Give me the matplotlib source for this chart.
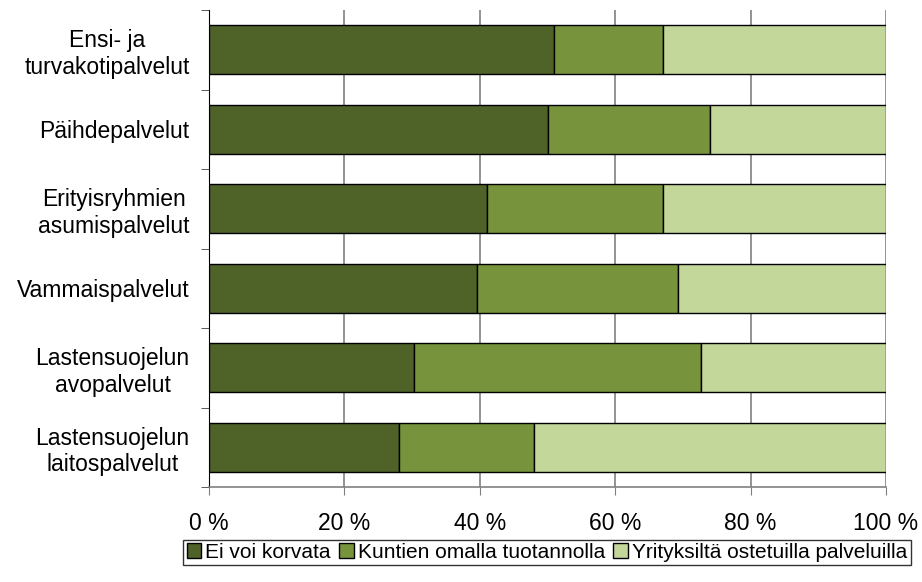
"""Palvelujen tuotantotapa palveluittain (osuudet, %)."""
import matplotlib
matplotlib.use('Agg')
import matplotlib.pyplot as plt
from matplotlib.ticker import FixedLocator, FuncFormatter

# Data (ylhäältä alas)
categories = ['Ensi- ja\nturvakotipalvelut', 'Päihdepalvelut',
              'Erityisryhmien\nasumispalvelut', 'Vammaispalvelut',
              'Lastensuojelun\navopalvelut', 'Lastensuojelun\nlaitospalvelut']
ei_voi_korvata = [51, 50, 41, 39.6, 30.3, 28]
kuntien_oma = [16, 24, 26, 29.7, 42.4, 20]
yrityksilta = [33, 26, 33, 30.7, 27.3, 52]
series_names = ['Ei voi korvata', 'Kuntien omalla tuotannolla',
                'Yrityksiltä ostetuilla palveluilla']
colors = ['#4F6228', '#77933C', '#C4D79B']

plt.rcParams['font.family'] = ['Liberation Sans', 'DejaVu Sans']

fig = plt.figure(figsize=(9.22, 5.82), dpi=100)
ax = fig.add_axes([209 / 922, 1 - 487 / 582, 677 / 922, 477 / 582])

ypos = list(range(len(categories)))
left = [0] * len(categories)
for name, vals, col in zip(series_names, [ei_voi_korvata, kuntien_oma, yrityksilta], colors):
    ax.barh(ypos, vals, left=left, height=0.62, color=col, edgecolor='black',
            linewidth=1, label=name, zorder=3)
    left = [a + b for a, b in zip(left, vals)]

ax.set_xlim(0, 100)
ax.set_ylim(len(categories) - 0.5, -0.5)
ax.set_xticks([0, 20, 40, 60, 80, 100])
ax.xaxis.set_major_formatter(FuncFormatter(lambda v, p: f'{v:.0f} %'))
ax.xaxis.grid(True, color='#808080', linewidth=1.2, zorder=0)
ax.set_yticks(ypos)
ax.set_yticklabels(categories, ha='right', multialignment='center')
ax.yaxis.set_minor_locator(FixedLocator([i - 0.5 for i in range(len(categories) + 1)]))
ax.tick_params(axis='y', which='major', length=0, pad=14, labelsize=16.5)
ax.tick_params(axis='y', which='minor', length=6, color='#404040')
ax.tick_params(axis='x', length=6, color='#808080', labelsize=16.5, pad=12)

for s in ['top', 'right']:
    ax.spines[s].set_visible(False)
ax.spines['left'].set_color('black')
ax.spines['bottom'].set_color('#808080')
ax.spines['bottom'].set_linewidth(1.2)

leg = fig.legend(loc='lower center', bbox_to_anchor=(547 / 922, 17 / 582), ncol=3,
                 frameon=True, fancybox=False, fontsize=15, handlelength=0.7,
                 handleheight=0.7, handletextpad=0.2, columnspacing=0.4,
                 borderpad=0.15, borderaxespad=0)
leg.get_frame().set_edgecolor('black')
leg.get_frame().set_linewidth(1)

fig.savefig('out.png', dpi=100)
